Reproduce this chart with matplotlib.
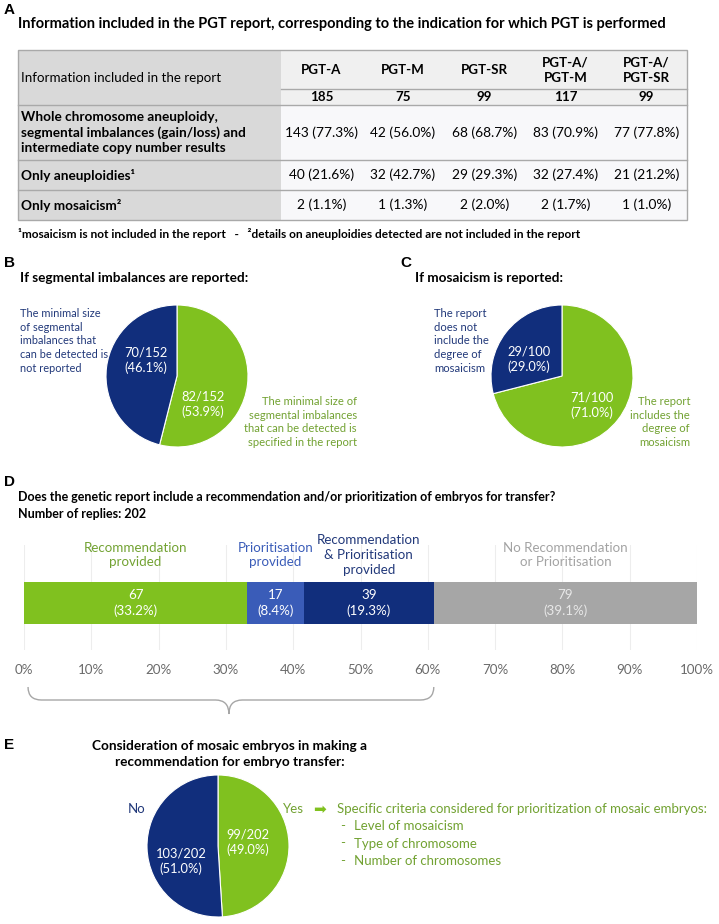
import matplotlib
matplotlib.use('Agg')
import matplotlib.pyplot as plt
import matplotlib.transforms as mtransforms
from matplotlib.patches import Rectangle, PathPatch
from matplotlib.path import Path

plt.rcParams['font.family'] = ['Lato', 'DejaVu Sans']

# ---- data ----
tbl_groups = ['PGT-A', 'PGT-M', 'PGT-SR', 'PGT-A/\nPGT-M', 'PGT-A/\nPGT-SR']
tbl_n = [185, 75, 99, 117, 99]
tbl_rows = ['Whole chromosome aneuploidy,\nsegmental imbalances (gain/loss) and\nintermediate copy number results',
            'Only aneuploidies\u00b9', 'Only mosaicism\u00b2']
tbl_counts = [[143, 42, 68, 83, 77],
              [40, 32, 29, 32, 21],
              [2, 1, 2, 2, 1]]

seg_counts = [82, 70]      # specified / not reported
mos_counts = [71, 29]      # includes degree / does not
rec_labels = ['Recommendation\nprovided', 'Prioritisation\nprovided',
              'Recommendation\n& Prioritisation\nprovided', 'No Recommendation\nor Prioritisation']
rec_counts = [67, 17, 39, 79]
cons_counts = [99, 103]    # yes / no
criteria = ['Level of mosaicism', 'Type of chromosome', 'Number of chromosomes']

GREEN = '#80c11f'
NAVY = '#112e7c'
BLUE = '#3a5cb8'
GRAY = '#a6a6a6'
GREEN_TXT = '#72a232'
NAVY_TXT = '#22397a'
LETTER = dict(family='Liberation Sans', weight='bold', fontsize=11)

W, H = 719, 924
fig = plt.figure(figsize=(W / 100, H / 100), dpi=100)
bg = fig.add_axes([0, 0, 1, 1])
bg.set_xlim(0, W)
bg.set_ylim(H, 0)
bg.axis('off')

# ---------------- A: table ----------------
bg.text(4, 10, 'A', va='center', **LETTER)
bg.text(18, 24, 'Information included in the PGT report, corresponding to the indication for which PGT is performed',
        fontsize=10.5, weight='bold', va='center')

xs = [18, 281, 362, 444, 525, 606, 687]
ys = [50, 89, 105, 160, 190, 220]
line_c = '#a9a9a9'
bg.add_patch(Rectangle((xs[0], ys[0]), xs[1] - xs[0], ys[-1] - ys[0], fc='#d9d9d9', ec='none'))
bg.add_patch(Rectangle((xs[1], ys[0]), xs[-1] - xs[1], ys[2] - ys[0], fc='#f0f0f0', ec='none'))
bg.add_patch(Rectangle((xs[1], ys[2]), xs[-1] - xs[1], ys[-1] - ys[2], fc='#f8f8fa', ec='none'))
bg.add_patch(Rectangle((xs[0], ys[0]), xs[-1] - xs[0], ys[-1] - ys[0], fc='none', ec=line_c, lw=1))
for y in ys[2:-1]:
    bg.plot([xs[0], xs[-1]], [y, y], color=line_c, lw=1)
bg.plot([xs[1], xs[-1]], [ys[1], ys[1]], color=line_c, lw=1)

bg.text(21, (ys[0] + ys[2]) / 2, 'Information included in the report', fontsize=9.6, va='center')
for i, g in enumerate(tbl_groups):
    cx = (xs[i + 1] + xs[i + 2]) / 2
    bg.text(cx, (ys[0] + ys[1]) / 2 + 1, g, ha='center', va='center', fontsize=9.6,
            weight='bold', linespacing=1.35)
    bg.text(cx, (ys[1] + ys[2]) / 2, str(tbl_n[i]), ha='center', va='center', fontsize=9.6, weight='bold')
for r, lab in enumerate(tbl_rows):
    cy = (ys[r + 2] + ys[r + 3]) / 2
    bg.text(21, cy, lab, va='center', fontsize=9.8, weight='bold', linespacing=1.3)
    for i, c in enumerate(tbl_counts[r]):
        cx = (xs[i + 1] + xs[i + 2]) / 2
        bg.text(cx, cy, f'{c} ({c / tbl_n[i] * 100:.1f}%)', ha='center', va='center', fontsize=9.9)

bg.text(18, 234, '\u00b9mosaicism is not included in the report   -   \u00b2details on aneuploidies detected are not included in the report',
        fontsize=8.55, weight='bold', va='center')


# ---------------- pies ----------------
def pie_axes(cx, cy, r):
    a = fig.add_axes([(cx - r) / W, 1 - (cy + r) / H, 2 * r / W, 2 * r / H])
    return a


def draw_pie(a, vals, cols):
    a.pie(vals, colors=cols, startangle=90, counterclock=False,
          wedgeprops=dict(edgecolor='white', linewidth=0.8))
    a.set_xlim(-1, 1)
    a.set_ylim(-1, 1)


def frac_label(a, x, y, n, tot):
    a.text(x, y, f'{n}/{tot}\n({n / tot * 100:.1f}%)', transform=bg.transData, color='white',
           ha='center', va='center', fontsize=9.3, linespacing=1.3)


# B
bg.text(4, 263, 'B', va='center', **LETTER)
bg.text(20, 278, 'If segmental imbalances are reported:', fontsize=9.8, weight='bold', va='center')
axb = pie_axes(177, 376, 71)
draw_pie(axb, seg_counts, [GREEN, NAVY])
tot = sum(seg_counts)
frac_label(axb, 146, 360, seg_counts[1], tot)
frac_label(axb, 203, 404, seg_counts[0], tot)
bg.text(20, 341, 'The minimal size\nof segmental\nimbalances that\ncan be detected is\nnot reported',
        color=NAVY_TXT, fontsize=7.9, va='center', linespacing=1.32)
bg.text(357, 422, 'The minimal size of\nsegmental imbalances\nthat can be detected is\nspecified in the report',
        color=GREEN_TXT, fontsize=8.1, va='center', ha='right', linespacing=1.3)

# C
bg.text(400, 263, 'C', va='center', **LETTER)
bg.text(415, 278, 'If mosaicism is reported:', fontsize=9.8, weight='bold', va='center')
axc = pie_axes(562, 376, 71)
draw_pie(axc, mos_counts, [GREEN, NAVY])
tot = sum(mos_counts)
frac_label(axc, 529, 359, mos_counts[1], tot)
frac_label(axc, 592, 405, mos_counts[0], tot)
bg.text(434, 341, 'The report\ndoes not\ninclude the\ndegree of\nmosaicism',
        color=NAVY_TXT, fontsize=8.1, va='center', linespacing=1.32)
bg.text(690, 422, 'The report\nincludes the\ndegree of\nmosaicism',
        color=GREEN_TXT, fontsize=8.1, va='center', ha='right', linespacing=1.3)

# ---------------- D: stacked bar ----------------
bg.text(4, 482, 'D', va='center', **LETTER)
bg.text(18, 497, 'Does the genetic report include a recommendation and/or prioritization of embryos for transfer?',
        fontsize=9.0, weight='bold', va='center')
bg.text(18, 514, f'Number of replies: {sum(rec_counts)}', fontsize=9.0, weight='bold', va='center')

axd = fig.add_axes([24 / W, 1 - 650 / H, 673 / W, 105 / H])
tot = sum(rec_counts)
pcts = [c / tot * 100 for c in rec_counts]
bar_cols = [GREEN, BLUE, NAVY, GRAY]
lab_cols = [GREEN_TXT, BLUE, NAVY_TXT, '#a3a3a3']
in_cols = ['white', 'white', 'white', '#e8e8e8']
mix = mtransforms.blended_transform_factory(axd.transData, bg.transData)
left = 0
for lab, c, p, bc, lc, ic in zip(rec_labels, rec_counts, pcts, bar_cols, lab_cols, in_cols):
    axd.barh(0.448, p, left=left, height=0.4, color=bc, zorder=2)
    mid = left + p / 2
    axd.text(mid, 603, f'{c}\n({p:.1f}%)', transform=mix, ha='center', va='center',
             color=ic, fontsize=9.6, linespacing=1.25)
    axd.text(mid, 555, lab, transform=mix, ha='center', va='center',
             color=lc, fontsize=9.6, linespacing=1.25)
    left += p
axd.set_xlim(0, 100)
axd.set_ylim(0, 1)
axd.set_xticks(range(0, 101, 10))
axd.set_xticklabels([f'{t}%' for t in range(0, 101, 10)])
axd.tick_params(axis='x', length=0, pad=10, labelsize=9.6, labelcolor='#6a6a6a')
axd.set_yticks([])
axd.grid(axis='x', color='#ededed', lw=0.8, zorder=0)
axd.set_axisbelow(True)
for s in axd.spines.values():
    s.set_visible(False)

# brace under first three segments
x1 = sum(pcts[:3])
xm = x1 / 2
x0 = 0.6
k = 2.0
verts = [(x0, 687), (x0, 700), (x0 + k, 700), (xm - k, 700), (xm, 700), (xm, 714),
         (xm, 700), (xm + k, 700), (x1 - k, 700), (x1, 700), (x1, 687)]
codes = [Path.MOVETO, Path.CURVE3, Path.CURVE3, Path.LINETO, Path.CURVE3, Path.CURVE3,
         Path.CURVE3, Path.CURVE3, Path.LINETO, Path.CURVE3, Path.CURVE3]
axd.add_patch(PathPatch(Path(verts, codes), transform=mix, fc='none', ec='#a6a6a6', lw=1, clip_on=False))

# ---------------- E ----------------
bg.text(4, 745, 'E', va='center', **LETTER)
bg.text(230, 754, 'Consideration of mosaic embryos in making a\nrecommendation for embryo transfer:',
        fontsize=9.8, weight='bold', ha='center', va='center', linespacing=1.3)
axe = pie_axes(218, 846, 71)
draw_pie(axe, cons_counts, [GREEN, NAVY])
tot = sum(cons_counts)
frac_label(axe, 181, 861, cons_counts[1], tot)
frac_label(axe, 248, 842, cons_counts[0], tot)
bg.text(137, 809, 'No', color=NAVY_TXT, fontsize=9.5, ha='center', va='center')
bg.text(293, 809, 'Yes', color=GREEN_TXT, fontsize=9.5, ha='center', va='center')
bg.text(320, 809, '\u27a1', color=GREEN, fontsize=11, ha='center', va='center', family='DejaVu Sans')
bg.text(337, 809, 'Specific criteria considered for prioritization of mosaic embryos:',
        color=GREEN_TXT, fontsize=9.5, va='center')
for j, item in enumerate(criteria):
    bg.text(340, 826 + 17.5 * j, '-', color=GREEN_TXT, fontsize=9.5, va='center')
    bg.text(354, 826 + 17.5 * j, item, color=GREEN_TXT, fontsize=9.5, va='center')

fig.savefig('out.png', dpi=100)
